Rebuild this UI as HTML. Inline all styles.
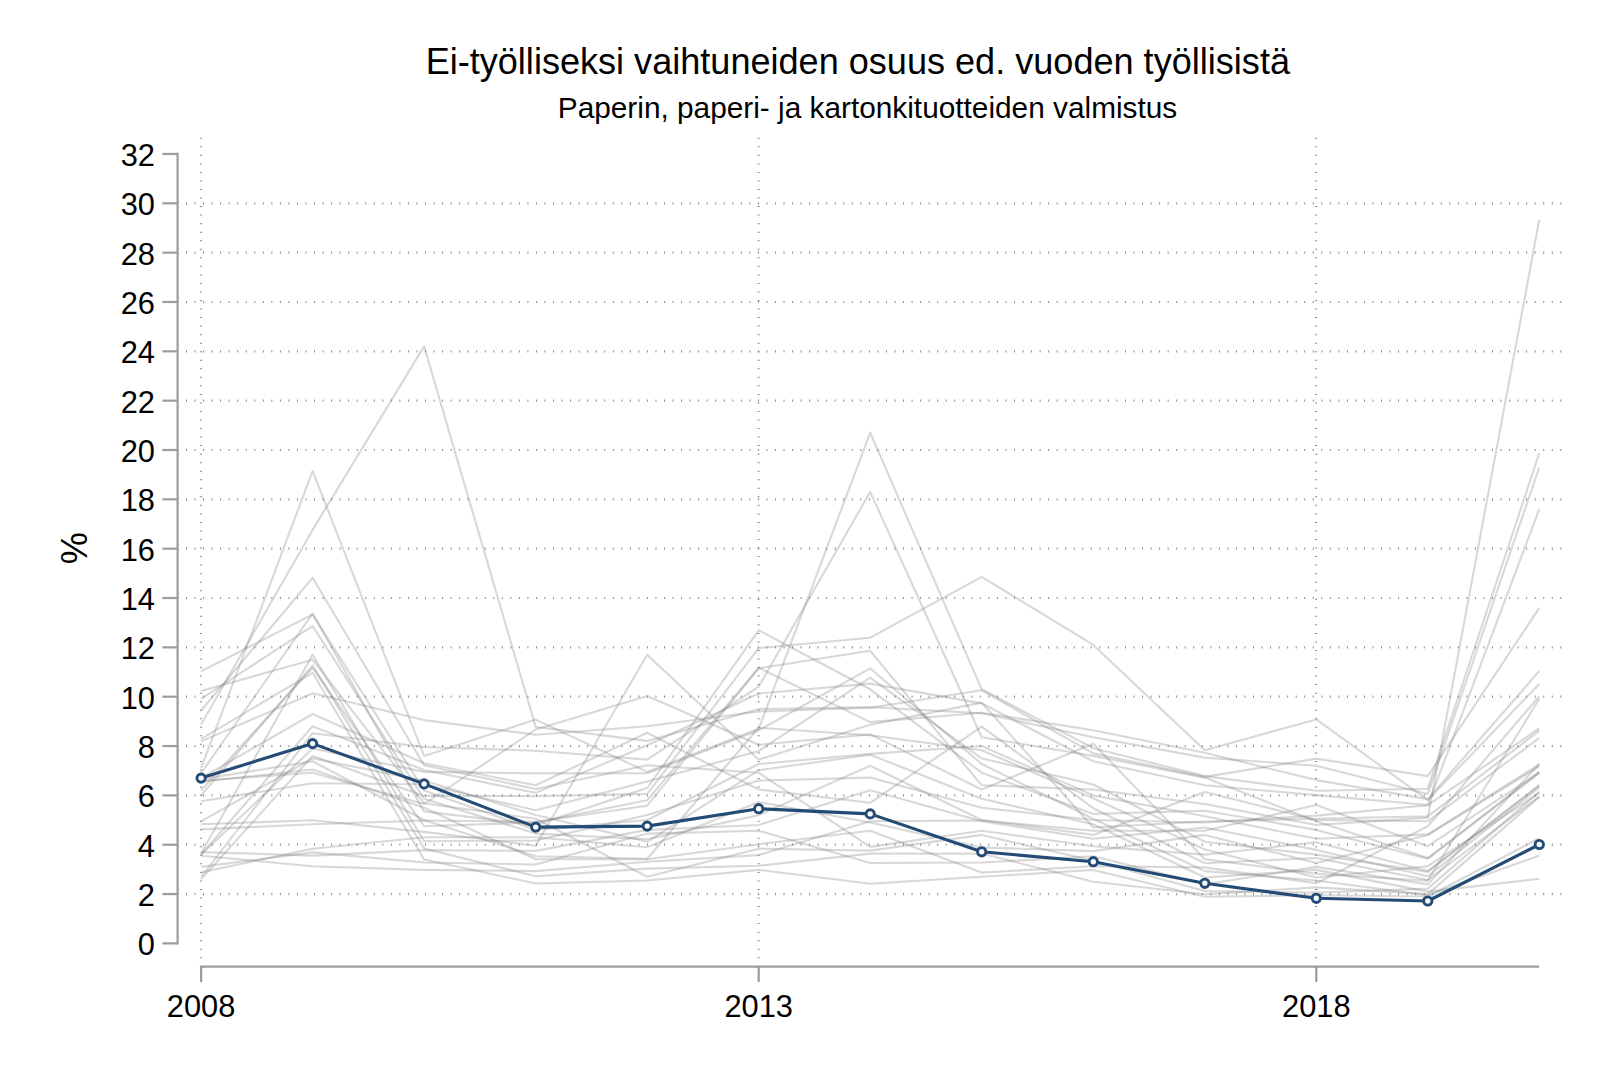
<!DOCTYPE html>
<html><head><meta charset="utf-8"><title>Ei-työlliseksi vaihtuneiden osuus</title>
<style>
html,body{margin:0;padding:0;background:#fff;}
body{width:1600px;height:1067px;overflow:hidden;position:relative;font-family:"Liberation Sans",Arial,sans-serif;}
svg{position:absolute;left:0;top:0;display:block;}
text{font-family:"Liberation Sans",Arial,sans-serif;fill:#000;}
.t1{font-size:36.1px;}
.t2{font-size:29.8px;}
.lab{font-size:30.8px;}
.yl{font-size:36.1px;}
.ax{stroke:#9c9c9c;stroke-width:2.2;fill:none;}
.grid{stroke:#8c8c8c;stroke-width:2.2;fill:none;stroke-dasharray:1 7.536;}
.g{stroke:#808080;stroke-opacity:0.31;stroke-width:2.1;fill:none;stroke-linejoin:round;}
.m{stroke:#244b76;stroke-width:3.1;fill:none;stroke-linejoin:round;}
.mk{stroke:#244b76;stroke-width:2.9;fill:#fbfbfb;}
</style></head><body>
<svg width="1600" height="1067" viewBox="0 0 1600 1067">
<rect width="1600" height="1067" fill="#fff"/>
<text class="t1" x="857.8" y="73.5" text-anchor="middle">Ei-työlliseksi vaihtuneiden osuus ed. vuoden työllisistä</text>
<text class="t2" x="867.5" y="117.8" text-anchor="middle">Paperin, paperi- ja kartonkituotteiden valmistus</text>
<g class="grid">
<path d="M186 894.06H1562"/>
<path d="M186 844.72H1562"/>
<path d="M186 795.38H1562"/>
<path d="M186 746.04H1562"/>
<path d="M186 696.70H1562"/>
<path d="M186 647.36H1562"/>
<path d="M186 598.02H1562"/>
<path d="M186 548.68H1562"/>
<path d="M186 499.34H1562"/>
<path d="M186 450.00H1562"/>
<path d="M186 400.66H1562"/>
<path d="M186 351.32H1562"/>
<path d="M186 301.98H1562"/>
<path d="M186 252.64H1562"/>
<path d="M186 203.30H1562"/>
<path d="M201.00 137.8V960"/>
<path d="M758.60 137.8V960"/>
<path d="M1316.20 137.8V960"/>
</g>
<g class="g">
<polyline points="201.1,671.3 312.6,614.5 424.1,790.4 535.7,829.9 647.2,820.0 758.7,764.0 870.2,753.9 981.7,746.0 1093.3,795.4 1204.8,816.3 1316.3,838.8 1427.8,834.4 1539.3,764.3"/>
<polyline points="201.1,691.0 312.6,659.7 424.1,803.3 535.7,818.8 647.2,876.8 758.7,848.7 870.2,850.6 981.7,834.9 1093.3,860.8 1204.8,891.1 1316.3,892.6 1427.8,888.6 1539.3,791.9"/>
<polyline points="201.1,698.9 312.6,626.1 424.1,798.8 535.7,833.6 647.2,839.3 758.7,815.1 870.2,765.8 981.7,820.0 1093.3,834.9 1204.8,791.9 1316.3,820.0 1427.8,821.3 1539.3,737.9"/>
<polyline points="201.1,710.5 312.6,577.8 424.1,765.3 535.7,789.0 647.2,765.3 758.7,772.7 870.2,846.9 981.7,830.7 1093.3,846.2 1204.8,854.6 1316.3,842.3 1427.8,871.1 1539.3,785.0"/>
<polyline points="201.1,724.6 312.6,529.9 424.1,346.4 535.7,727.0 647.2,740.9 758.7,709.0 870.2,707.1 981.7,713.2 1093.3,737.2 1204.8,757.6 1316.3,765.8 1427.8,793.9 1539.3,467.3"/>
<polyline points="201.1,738.9 312.6,672.8 424.1,859.5 535.7,883.5 647.2,880.5 758.7,869.9 870.2,883.7 981.7,876.8 1093.3,869.9 1204.8,896.8 1316.3,895.3 1427.8,896.5 1539.3,838.3"/>
<polyline points="201.1,741.4 312.6,693.2 424.1,720.1 535.7,734.7 647.2,726.3 758.7,711.5 870.2,707.8 981.7,690.3 1093.3,753.4 1204.8,776.9 1316.3,758.6 1427.8,776.1 1539.3,607.9"/>
<polyline points="201.1,768.2 312.6,471.0 424.1,755.9 535.7,719.6 647.2,771.9 758.7,728.8 870.2,432.7 981.7,689.3 1093.3,748.3 1204.8,776.1 1316.3,790.7 1427.8,788.7 1539.3,453.0"/>
<polyline points="201.1,773.2 312.6,613.6 424.1,811.4 535.7,825.0 647.2,788.0 758.7,630.3 870.2,689.3 981.7,772.7 1093.3,813.9 1204.8,810.7 1316.3,829.9 1427.8,858.8 1539.3,771.9"/>
<polyline points="201.1,778.1 312.6,714.0 424.1,763.3 535.7,785.3 647.2,732.7 758.7,789.5 870.2,802.8 981.7,726.6 1093.3,808.2 1204.8,863.2 1316.3,858.0 1427.8,880.0 1539.3,796.6"/>
<polyline points="201.1,779.3 312.6,761.3 424.1,820.0 535.7,856.3 647.2,858.8 758.7,727.8 870.2,735.2 981.7,750.2 1093.3,798.3 1204.8,849.4 1316.3,877.5 1427.8,866.2 1539.3,792.9"/>
<polyline points="201.1,780.6 312.6,772.7 424.1,804.0 535.7,729.5 647.2,696.0 758.7,744.8 870.2,734.4 981.7,789.5 1093.3,743.8 1204.8,859.3 1316.3,873.8 1427.8,880.7 1539.3,698.9"/>
<polyline points="201.1,781.8 312.6,769.5 424.1,807.7 535.7,859.3 647.2,859.3 758.7,844.2 870.2,830.7 981.7,872.6 1093.3,866.2 1204.8,867.4 1316.3,883.2 1427.8,826.2 1539.3,696.2"/>
<polyline points="201.1,790.2 312.6,667.8 424.1,826.2 535.7,822.5 647.2,800.3 758.7,667.8 870.2,722.1 981.7,712.7 1093.3,730.3 1204.8,752.7 1316.3,780.1 1427.8,799.1 1539.3,671.0"/>
<polyline points="201.1,795.4 312.6,665.4 424.1,848.4 535.7,876.3 647.2,868.6 758.7,865.7 870.2,853.6 981.7,853.6 1093.3,881.7 1204.8,894.3 1316.3,887.4 1427.8,894.1 1539.3,796.9"/>
<polyline points="201.1,801.3 312.6,783.3 424.1,784.3 535.7,810.2 647.2,781.6 758.7,751.0 870.2,677.7 981.7,758.4 1093.3,784.5 1204.8,841.8 1316.3,854.6 1427.8,871.9 1539.3,785.5"/>
<polyline points="201.1,821.3 312.6,758.4 424.1,780.6 535.7,815.1 647.2,841.8 758.7,770.2 870.2,754.7 981.7,798.8 1093.3,824.2 1204.8,877.5 1316.3,869.9 1427.8,891.6 1539.3,878.8"/>
<polyline points="201.1,824.2 312.6,820.3 424.1,831.9 535.7,845.7 647.2,654.8 758.7,759.6 870.2,724.8 981.7,702.6 1093.3,827.5 1204.8,821.5 1316.3,818.8 1427.8,816.3 1539.3,730.7"/>
<polyline points="201.1,829.4 312.6,824.2 424.1,820.5 535.7,821.8 647.2,805.7 758.7,668.3 870.2,650.8 981.7,785.3 1093.3,789.5 1204.8,804.0 1316.3,825.0 1427.8,817.6 1539.3,219.6"/>
<polyline points="201.1,852.1 312.6,855.6 424.1,850.1 535.7,850.9 647.2,829.9 758.7,825.0 870.2,790.2 981.7,821.3 1093.3,838.8 1204.8,827.5 1316.3,849.9 1427.8,876.3 1539.3,787.5"/>
<polyline points="201.1,853.4 312.6,654.8 424.1,841.3 535.7,840.5 647.2,815.1 758.7,780.6 870.2,777.6 981.7,807.7 1093.3,820.0 1204.8,822.5 1316.3,815.6 1427.8,805.2 1539.3,728.3"/>
<polyline points="201.1,854.6 312.6,726.3 424.1,770.0 535.7,792.9 647.2,745.3 758.7,693.5 870.2,683.6 981.7,703.4 1093.3,761.3 1204.8,785.3 1316.3,795.1 1427.8,805.0 1539.3,509.2"/>
<polyline points="201.1,854.6 312.6,748.5 424.1,771.9 535.7,773.4 647.2,773.2 758.7,730.3 870.2,668.3 981.7,764.0 1093.3,818.8 1204.8,871.1 1316.3,880.5 1427.8,895.3 1539.3,855.6"/>
<polyline points="201.1,855.8 312.6,866.2 424.1,869.9 535.7,871.1 647.2,861.7 758.7,855.1 870.2,821.3 981.7,820.5 1093.3,830.7 1204.8,830.7 1316.3,805.0 1427.8,846.2 1539.3,772.4"/>
<polyline points="201.1,866.9 312.6,852.4 424.1,862.5 535.7,864.5 647.2,833.6 758.7,830.7 870.2,863.0 981.7,862.5 1093.3,856.3 1204.8,884.2 1316.3,866.9 1427.8,884.4 1539.3,763.8"/>
<polyline points="201.1,872.4 312.6,848.7 424.1,837.3 535.7,837.3 647.2,847.2 758.7,802.0 870.2,822.5 981.7,847.4 1093.3,851.1 1204.8,834.9 1316.3,863.0 1427.8,835.1 1539.3,766.3"/>
<polyline points="201.1,876.8 312.6,733.2 424.1,747.0 535.7,750.7 647.2,759.6 758.7,686.6 870.2,491.9 981.7,737.2 1093.3,755.9 1204.8,777.6 1316.3,821.3 1427.8,858.0 1539.3,773.2"/>
<polyline points="201.1,879.3 312.6,755.9 424.1,795.9 535.7,796.1 647.2,793.9 758.7,648.1 870.2,637.7 981.7,576.8 1093.3,644.9 1204.8,750.2 1316.3,719.4 1427.8,800.1 1539.3,683.9"/>
</g>
<g class="ax">
<path d="M177.6 152.86V944.50"/>
<path d="M162.4 943.40H177.6"/>
<path d="M162.4 894.06H177.6"/>
<path d="M162.4 844.72H177.6"/>
<path d="M162.4 795.38H177.6"/>
<path d="M162.4 746.04H177.6"/>
<path d="M162.4 696.70H177.6"/>
<path d="M162.4 647.36H177.6"/>
<path d="M162.4 598.02H177.6"/>
<path d="M162.4 548.68H177.6"/>
<path d="M162.4 499.34H177.6"/>
<path d="M162.4 450.00H177.6"/>
<path d="M162.4 400.66H177.6"/>
<path d="M162.4 351.32H177.6"/>
<path d="M162.4 301.98H177.6"/>
<path d="M162.4 252.64H177.6"/>
<path d="M162.4 203.30H177.6"/>
<path d="M162.4 153.96H177.6"/>
<path d="M199.9 966.7H1539"/>
<path d="M201.10 966.7V982"/>
<path d="M758.70 966.7V982"/>
<path d="M1316.30 966.7V982"/>
</g>
<text class="lab" x="154.9" y="955.40" text-anchor="end">0</text>
<text class="lab" x="154.9" y="906.06" text-anchor="end">2</text>
<text class="lab" x="154.9" y="856.72" text-anchor="end">4</text>
<text class="lab" x="154.9" y="807.38" text-anchor="end">6</text>
<text class="lab" x="154.9" y="758.04" text-anchor="end">8</text>
<text class="lab" x="154.9" y="708.70" text-anchor="end">10</text>
<text class="lab" x="154.9" y="659.36" text-anchor="end">12</text>
<text class="lab" x="154.9" y="610.02" text-anchor="end">14</text>
<text class="lab" x="154.9" y="560.68" text-anchor="end">16</text>
<text class="lab" x="154.9" y="511.34" text-anchor="end">18</text>
<text class="lab" x="154.9" y="462.00" text-anchor="end">20</text>
<text class="lab" x="154.9" y="412.66" text-anchor="end">22</text>
<text class="lab" x="154.9" y="363.32" text-anchor="end">24</text>
<text class="lab" x="154.9" y="313.98" text-anchor="end">26</text>
<text class="lab" x="154.9" y="264.64" text-anchor="end">28</text>
<text class="lab" x="154.9" y="215.30" text-anchor="end">30</text>
<text class="lab" x="154.9" y="165.96" text-anchor="end">32</text>
<text class="lab" x="201.10" y="1016.8" text-anchor="middle">2008</text>
<text class="lab" x="758.70" y="1016.8" text-anchor="middle">2013</text>
<text class="lab" x="1316.30" y="1016.8" text-anchor="middle">2018</text>
<text class="yl" transform="translate(86.5,548.2) rotate(-90)" text-anchor="middle">%</text>
<polyline class="m" points="201.1,778.1 312.6,743.6 424.1,783.9 535.7,827.1 647.2,826.1 758.7,808.7 870.2,813.9 981.7,851.8 1093.3,861.7 1204.8,883.3 1316.3,898.3 1427.8,901.0 1539.3,844.5"/>
<circle class="mk" cx="201.1" cy="778.1" r="4.15"/>
<circle class="mk" cx="312.6" cy="743.6" r="4.15"/>
<circle class="mk" cx="424.1" cy="783.9" r="4.15"/>
<circle class="mk" cx="535.7" cy="827.1" r="4.15"/>
<circle class="mk" cx="647.2" cy="826.1" r="4.15"/>
<circle class="mk" cx="758.7" cy="808.7" r="4.15"/>
<circle class="mk" cx="870.2" cy="813.9" r="4.15"/>
<circle class="mk" cx="981.7" cy="851.8" r="4.15"/>
<circle class="mk" cx="1093.3" cy="861.7" r="4.15"/>
<circle class="mk" cx="1204.8" cy="883.3" r="4.15"/>
<circle class="mk" cx="1316.3" cy="898.3" r="4.15"/>
<circle class="mk" cx="1427.8" cy="901.0" r="4.15"/>
<circle class="mk" cx="1539.3" cy="844.5" r="4.15"/>
</svg>
</body></html>
